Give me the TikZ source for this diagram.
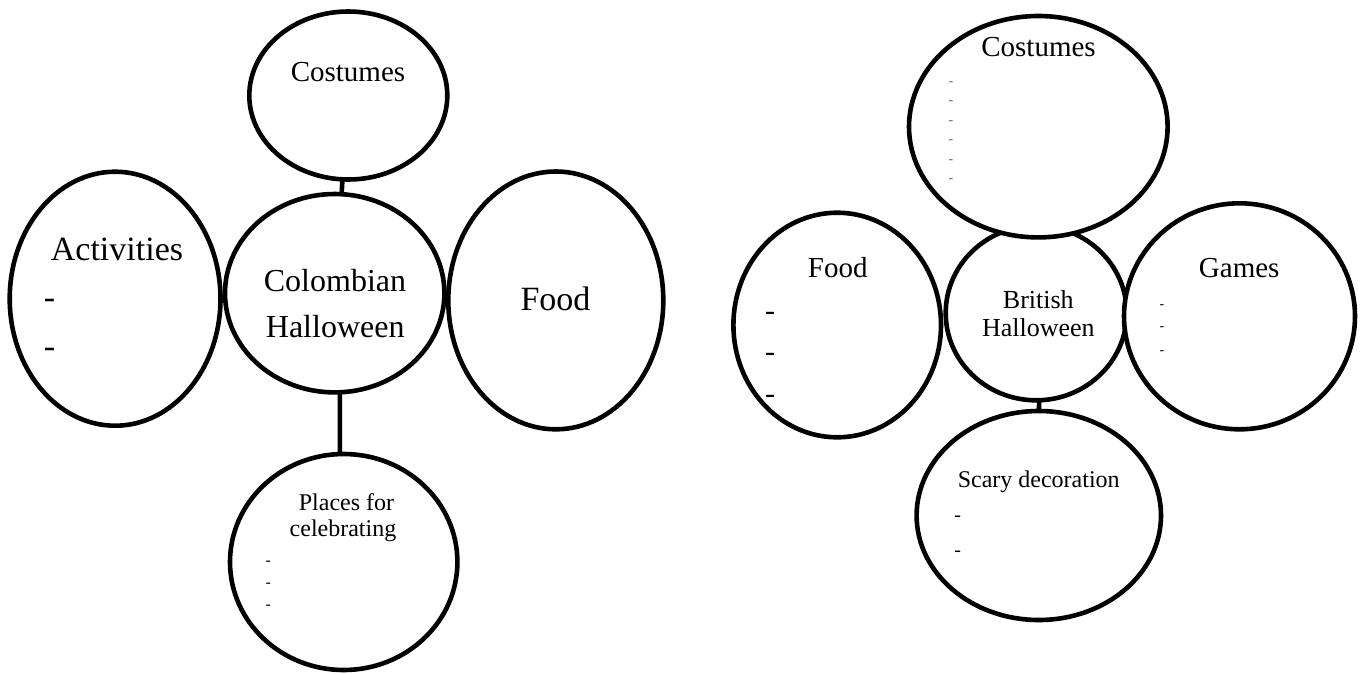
\documentclass[tikz,border=0pt]{standalone}
\usepackage{fontspec}
\setmainfont{Liberation Serif}
\usetikzlibrary{shapes.geometric}
\tikzset{
  bub/.style={ellipse, draw, line width=4.6pt, fill=white, inner sep=0pt, outer sep=0pt},
  txt/.style={inner sep=0pt, anchor=base},
  dsh/.style={inner sep=0pt, anchor=base west},
  conn/.style={line width=4.6pt},
}
\newcommand{\fsz}[1]{\fontsize{#1}{#1}\selectfont}
\begin{document}
\begin{tikzpicture}[x=1pt,y=-1pt]
\useasboundingbox (0,0) rectangle (1364,673);
% ---------------- left: Colombian Halloween ----------------
\node[bub, minimum width=198pt, minimum height=168pt] (lcos) at (348.3,95.5) {};
\node[bub, minimum width=210.8pt, minimum height=254pt] (lact) at (115.1,298.7) {};
\node[bub, minimum width=215pt, minimum height=257.8pt] (lfood) at (555.8,300.4) {};
\node[bub, minimum width=219.4pt, minimum height=198.4pt] (lcen) at (334.7,293.2) {};
\node[bub, minimum width=227.4pt, minimum height=216pt] (lpla) at (343.7,562) {};
\draw[conn] (lcos.266) -- (lcen.86);
\draw[conn] (lcen.273) -- (lpla.92);
\node[txt, font=\fsz{29}] (tlcos) at (348,81.7) {Costumes};
\node[txt, font=\fsz{34}] (tlact) at (117,260) {Activities};
\node[dsh, font=\fsz{34}] (dla1) at (43.6,308.7) {-};
\node[dsh, font=\fsz{34}] (dla2) at (43.6,357.7) {-};
\node[txt, font=\fsz{32}] (tlcen1) at (335,291) {Colombian};
\node[txt, font=\fsz{32}] (tlcen2) at (335.2,337.3) {Halloween};
\node[txt, font=\fsz{34}] (tlfood) at (555.5,310.7) {Food};
\node[txt, font=\fsz{24}] (tlpla1) at (346.5,510.7) {Places for};
\node[txt, font=\fsz{24}] (tlpla2) at (343,536.7) {celebrating};
\node[dsh, font=\fsz{16}] (dlp1) at (265.4,565.3) {-};
\node[dsh, font=\fsz{16}] (dlp2) at (265.4,587.6) {-};
\node[dsh, font=\fsz{16}] (dlp3) at (265.4,609.6) {-};
% ---------------- right: British Halloween ----------------
\node[bub, minimum width=181pt, minimum height=174.6pt] (rcen) at (1036.2,313) {};
\node[bub, minimum width=258.6pt, minimum height=221.4pt] (rcos) at (1038.3,126.7) {};
\node[bub, minimum width=207.6pt, minimum height=224.6pt] (rfood) at (837.2,325) {};
\node[bub, minimum width=231pt, minimum height=226pt] (rgam) at (1239.5,316.3) {};
\node[bub, minimum width=244.4pt, minimum height=209pt] (rsca) at (1038.8,515.5) {};
\draw[conn] (rcen.272) -- (rsca.north);
\node[txt, font=\fsz{29}] (trcos) at (1038.5,56.7) {Costumes};
\foreach \yy [count=\i] in {85.5,104.8,124.2,143.8,163.2,182.2}
  \node[dsh, font=\fsz{14}, text=black!60] (drc\i) at (948.4,\yy) {-};
\node[txt, font=\fsz{29}] (trfood) at (837.8,277.7) {Food};
\node[dsh, font=\fsz{30}] (drf1) at (764.8,320) {-};
\node[dsh, font=\fsz{30}] (drf2) at (764.8,361.8) {-};
\node[dsh, font=\fsz{30}] (drf3) at (764.8,403.5) {-};
\node[txt, font=\fsz{26}] (trcen1) at (1038.3,308.3) {British};
\node[txt, font=\fsz{26}] (trcen2) at (1038.3,336) {Halloween};
\node[txt, font=\fsz{29}] (trgam) at (1239.2,277.3) {Games};
\node[dsh, font=\fsz{14}] (drg1) at (1159.4,308.2) {-};
\node[dsh, font=\fsz{14}] (drg2) at (1159.4,330.5) {-};
\node[dsh, font=\fsz{14}] (drg3) at (1159.4,354.2) {-};
\node[txt, font=\fsz{24}] (trsca) at (1038.7,487.7) {Scary decoration};
\node[dsh, font=\fsz{20}] (drs1) at (954.2,521.8) {-};
\node[dsh, font=\fsz{20}] (drs2) at (954.2,556.2) {-};
\end{tikzpicture}
\end{document}
